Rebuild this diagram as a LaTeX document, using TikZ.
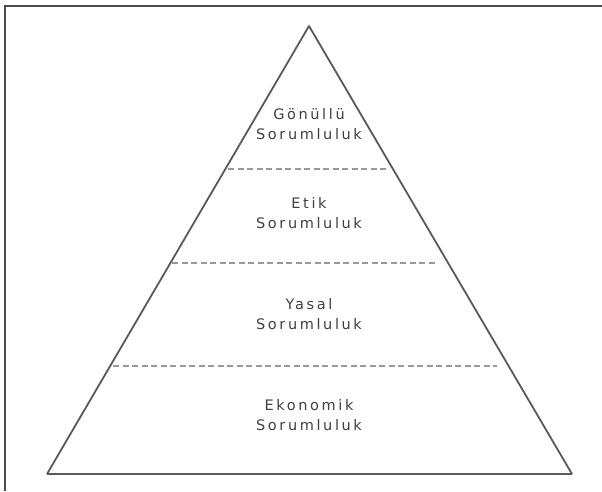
\documentclass[tikz,border=0pt]{standalone}
\usepackage{fontspec}
\setmainfont{DejaVu Sans}[LetterSpace=18]
\begin{document}
\begin{tikzpicture}[x=1pt,y=-1pt,
  frameline/.style={draw=black!70,line width=2pt},
  sideline/.style={draw=black!65,line width=1.8pt},
  levelline/.style={draw=black!40,line width=1.8pt,dash pattern=on 6pt off 3.5pt},
  label/.style={align=center,text=black!75,font=\fontsize{14.5}{19.5}\selectfont,inner sep=0pt}]
\useasboundingbox (0,0) rectangle (602,491);
% frame (top and left edges)
\coordinate (ftr) at (602,6);
\coordinate (ftl) at (5,6);
\coordinate (fbl) at (5,491);
\draw[frameline] (ftr) -- (ftl) -- (fbl);
% pyramid
\coordinate (apex) at (309,26);
\coordinate (bl) at (47,474);
\coordinate (br) at (572,474);
\draw[sideline,line join=round] (bl) -- (apex) -- (br);
\draw[sideline] (bl) -- (br);
% level dividers
\coordinate (d1l) at (228,169);
\coordinate (d1r) at (388,169);
\coordinate (d2l) at (172,263);
\coordinate (d2r) at (438,263);
\coordinate (d3l) at (113,366);
\coordinate (d3r) at (497,366);
\draw[levelline] (d1l) -- (d1r);
\draw[levelline] (d2l) -- (d2r);
\draw[levelline] (d3l) -- (d3r);
% labels
\node[label] (g) at (309,124) {Gönüllü\\Sorumluluk};
\node[label] (e) at (309,213) {Etik\\Sorumluluk};
\node[label] (y) at (309,314) {Yasal\\Sorumluluk};
\node[label] (k) at (309,415) {Ekonomik\\Sorumluluk};
\end{tikzpicture}
\end{document}
